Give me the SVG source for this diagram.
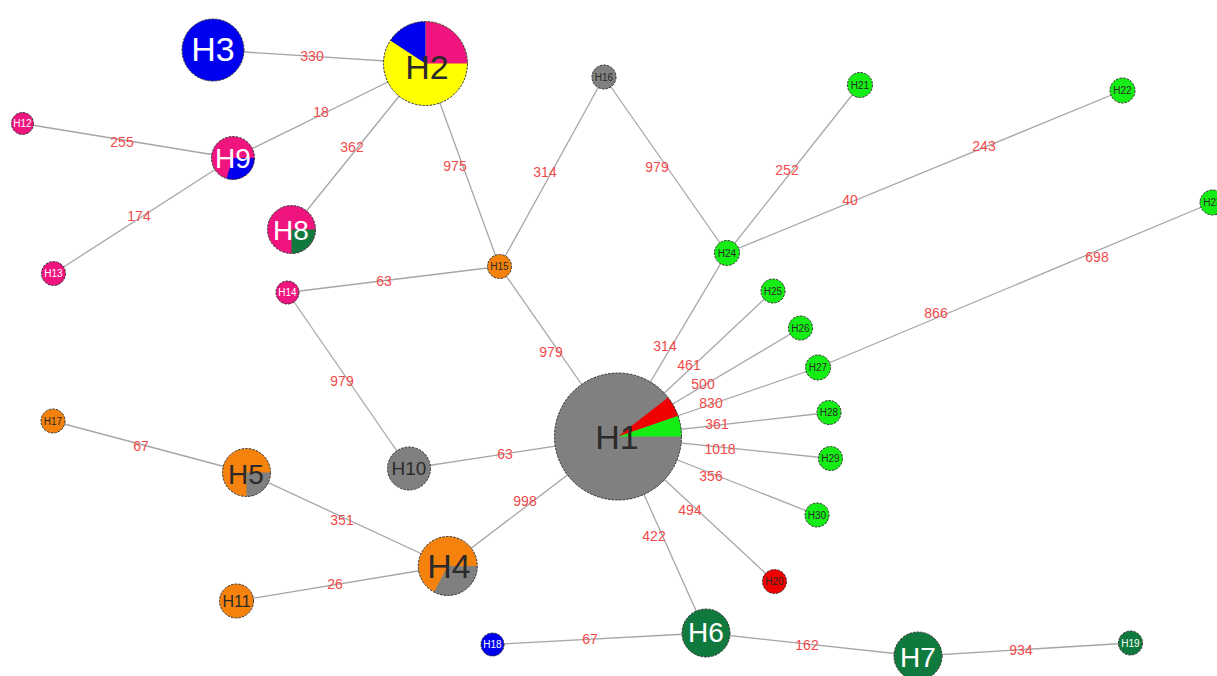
<svg xmlns="http://www.w3.org/2000/svg" width="1217" height="676" viewBox="0 0 1217 676">
<style>
.e{stroke:#a6a6a6;stroke-width:1.3;fill:none}
.el{font-family:"Liberation Sans",Arial,sans-serif;font-size:14px;fill:#f24a4a;text-anchor:middle;dominant-baseline:central}
.o{stroke:#333;stroke-width:1;stroke-dasharray:2.5 1.2;fill:none}
.t{font-family:"Liberation Sans",Arial,sans-serif;text-anchor:middle;dominant-baseline:central}
.w{fill:#fff}.d{fill:#2a2a2a}
.blue{fill:#0000f0}.pink{fill:#f0147f}.yel{fill:#ffff00}.grn{fill:#14ee14}.dg{fill:#107a3e}.org{fill:#f5820d}.gry{fill:#808080}.red{fill:#f00000}
.s10{font-size:10px}.s16{font-size:16px}.s19{font-size:19px}.s28{font-size:28px}.s34{font-size:34px}
</style>
<rect width="1217" height="676" fill="#fff"/>
<g id="connectors">
<line class="e" x1="213" y1="50" x2="425.5" y2="63.5"/>
<line class="e" x1="425.5" y1="63.5" x2="233" y2="158"/>
<line class="e" x1="425.5" y1="63.5" x2="291.5" y2="229.5"/>
<line class="e" x1="425.5" y1="63.5" x2="499.5" y2="266.5"/>
<line class="e" x1="22.5" y1="123.5" x2="233" y2="158"/>
<line class="e" x1="233" y1="158" x2="53.5" y2="273.5"/>
<line class="e" x1="287.5" y1="292.5" x2="499.5" y2="266.5"/>
<line class="e" x1="499.5" y1="266.5" x2="604" y2="77"/>
<line class="e" x1="604" y1="77" x2="727" y2="253"/>
<line class="e" x1="727" y1="253" x2="860" y2="85"/>
<line class="e" x1="727" y1="253" x2="1122.5" y2="90.5"/>
<line class="e" x1="499.5" y1="266.5" x2="618" y2="436.5"/>
<line class="e" x1="287.5" y1="292.5" x2="409" y2="468.5"/>
<line class="e" x1="409" y1="468.5" x2="618" y2="436.5"/>
<line class="e" x1="618" y1="436.5" x2="447.8" y2="566"/>
<line class="e" x1="53" y1="421" x2="246.5" y2="472.5"/>
<line class="e" x1="246.5" y1="472.5" x2="447.8" y2="566"/>
<line class="e" x1="236.5" y1="601" x2="447.8" y2="566"/>
<line class="e" x1="618" y1="436.5" x2="727" y2="253"/>
<line class="e" x1="618" y1="436.5" x2="773" y2="291"/>
<line class="e" x1="618" y1="436.5" x2="800.5" y2="328"/>
<line class="e" x1="618" y1="436.5" x2="818" y2="367.5"/>
<line class="e" x1="618" y1="436.5" x2="829" y2="412.5"/>
<line class="e" x1="618" y1="436.5" x2="830.5" y2="458.5"/>
<line class="e" x1="618" y1="436.5" x2="817" y2="515"/>
<line class="e" x1="818" y1="367.5" x2="1212.5" y2="202.5"/>
<line class="e" x1="618" y1="436.5" x2="774.5" y2="581.5"/>
<line class="e" x1="618" y1="436.5" x2="706" y2="633"/>
<line class="e" x1="492.5" y1="644.5" x2="706" y2="633"/>
<line class="e" x1="706" y1="633" x2="918" y2="656"/>
<line class="e" x1="918" y1="656" x2="1130.5" y2="643"/>
</g>
<g id="edge-labels">
<text class="el" x="312" y="56">330</text>
<text class="el" x="321" y="112">18</text>
<text class="el" x="352" y="147">362</text>
<text class="el" x="455" y="166">975</text>
<text class="el" x="122" y="142">255</text>
<text class="el" x="139" y="216">174</text>
<text class="el" x="384" y="281">63</text>
<text class="el" x="545" y="172">314</text>
<text class="el" x="657" y="167">979</text>
<text class="el" x="787" y="170">252</text>
<text class="el" x="850" y="200">40</text>
<text class="el" x="984" y="146">243</text>
<text class="el" x="551" y="352">979</text>
<text class="el" x="342" y="381">979</text>
<text class="el" x="505" y="454">63</text>
<text class="el" x="525" y="501">998</text>
<text class="el" x="141" y="446">67</text>
<text class="el" x="342" y="520">351</text>
<text class="el" x="335" y="584">26</text>
<text class="el" x="665" y="346">314</text>
<text class="el" x="689" y="365">461</text>
<text class="el" x="703" y="384">500</text>
<text class="el" x="711" y="403">830</text>
<text class="el" x="717" y="424">361</text>
<text class="el" x="720" y="449">1018</text>
<text class="el" x="711" y="476">356</text>
<text class="el" x="690" y="510">494</text>
<text class="el" x="654" y="536">422</text>
<text class="el" x="936" y="313">866</text>
<text class="el" x="1097" y="257">698</text>
<text class="el" x="590" y="639">67</text>
<text class="el" x="807" y="645">162</text>
<text class="el" x="1021" y="650">934</text>
</g>
<g id="H1"><circle class="gry" cx="618" cy="436.5" r="63.5"/><path class="grn" d="M618 436.5 L681.5 436.5 A63.5 63.5 0 0 0 678 415.8 Z"/><path class="red" d="M618 436.5 L678 415.8 A63.5 63.5 0 0 0 668 397.4 Z"/><circle class="o" cx="618" cy="436.5" r="63.5"/><text class="t d s34" x="617" y="437">H1</text></g>
<g id="H2"><circle class="yel" cx="425.5" cy="63.5" r="42"/><path class="pink" d="M425.5 63.5 L425.5 21.5 A42 42 0 0 1 467.5 63.5 Z"/><path class="blue" d="M425.5 63.5 L390.3 40.6 A42 42 0 0 1 425.5 21.5 Z"/><circle class="o" cx="425.5" cy="63.5" r="42"/><text class="t d s34" x="427" y="67">H2</text></g>
<g id="H3"><circle class="blue" cx="213" cy="50" r="31"/><circle class="o" cx="213" cy="50" r="31"/><text class="t w s34" x="213" y="49">H3</text></g>
<g id="H4"><circle class="org" cx="447.8" cy="566" r="29.5"/><path class="gry" d="M447.8 566 L477.3 566 A29.5 29.5 0 0 1 434 592 Z"/><circle class="o" cx="447.8" cy="566" r="29.5"/><text class="t d s34" x="449" y="566">H4</text></g>
<g id="H5"><circle class="org" cx="246.5" cy="472.5" r="24"/><path class="gry" d="M246.5 472.5 L270.5 472.5 A24 24 0 0 1 246.5 496.5 Z"/><circle class="o" cx="246.5" cy="472.5" r="24"/><text class="t d s28" x="246" y="474">H5</text></g>
<g id="H6"><circle class="dg" cx="706" cy="633" r="24"/><circle class="o" cx="706" cy="633" r="24"/><text class="t w s28" x="706" y="632">H6</text></g>
<g id="H7"><circle class="dg" cx="918" cy="656" r="24"/><circle class="o" cx="918" cy="656" r="24"/><text class="t w s28" x="918" y="657">H7</text></g>
<g id="H8"><circle class="pink" cx="291.5" cy="229.5" r="24"/><path class="dg" d="M291.5 229.5 L315.5 229.5 A24 24 0 0 1 291.5 253.5 Z"/><circle class="o" cx="291.5" cy="229.5" r="24"/><text class="t w s28" x="291" y="230">H8</text></g>
<g id="H9"><circle class="pink" cx="233" cy="158" r="21.5"/><path class="blue" d="M233 158 L254.5 158 A21.5 21.5 0 0 1 226.5 178.5 Z"/><circle class="o" cx="233" cy="158" r="21.5"/><text class="t w s28" x="233" y="158">H9</text></g>
<g id="H10"><circle class="gry" cx="409" cy="468.5" r="21.5"/><circle class="o" cx="409" cy="468.5" r="21.5"/><text class="t d s19" x="409" y="468.5">H10</text></g>
<g id="H11"><circle class="org" cx="236.5" cy="601" r="17"/><circle class="o" cx="236.5" cy="601" r="17"/><text class="t d s16" x="236.5" y="601.5">H11</text></g>
<g id="H12"><circle class="pink" cx="22.5" cy="123.5" r="11"/><circle class="o" cx="22.5" cy="123.5" r="11"/><text class="t w s10" x="22.5" y="123.5">H12</text></g>
<g id="H13"><circle class="pink" cx="53.5" cy="273.5" r="12"/><circle class="o" cx="53.5" cy="273.5" r="12"/><text class="t w s10" x="53.5" y="273.5">H13</text></g>
<g id="H14"><circle class="pink" cx="287.5" cy="292.5" r="11.5"/><circle class="o" cx="287.5" cy="292.5" r="11.5"/><text class="t w s10" x="287.5" y="292.5">H14</text></g>
<g id="H15"><circle class="org" cx="499.5" cy="266.5" r="12"/><circle class="o" cx="499.5" cy="266.5" r="12"/><text class="t d s10" x="499.5" y="266.5">H15</text></g>
<g id="H16"><circle class="gry" cx="604" cy="77" r="12"/><circle class="o" cx="604" cy="77" r="12"/><text class="t d s10" x="604" y="77">H16</text></g>
<g id="H17"><circle class="org" cx="53" cy="421" r="12"/><circle class="o" cx="53" cy="421" r="12"/><text class="t d s10" x="53" y="421">H17</text></g>
<g id="H18"><circle class="blue" cx="492.5" cy="644.5" r="11.5"/><circle class="o" cx="492.5" cy="644.5" r="11.5"/><text class="t w s10" x="492.5" y="644.5">H18</text></g>
<g id="H19"><circle class="dg" cx="1130.5" cy="643" r="12"/><circle class="o" cx="1130.5" cy="643" r="12"/><text class="t w s10" x="1130.5" y="643">H19</text></g>
<g id="H20"><circle class="red" cx="774.5" cy="581.5" r="12"/><circle class="o" cx="774.5" cy="581.5" r="12"/><text class="t d s10" x="774.5" y="581.5">H20</text></g>
<g id="H21"><circle class="grn" cx="860" cy="85" r="12.5"/><circle class="o" cx="860" cy="85" r="12.5"/><text class="t d s10" x="860" y="85">H21</text></g>
<g id="H22"><circle class="grn" cx="1122.5" cy="90.5" r="12.5"/><circle class="o" cx="1122.5" cy="90.5" r="12.5"/><text class="t d s10" x="1122.5" y="90.5">H22</text></g>
<g id="H23"><circle class="grn" cx="1212.5" cy="202.5" r="12.5"/><circle class="o" cx="1212.5" cy="202.5" r="12.5"/><text class="t d s10" x="1212.5" y="202.5">H23</text></g>
<g id="H24"><circle class="grn" cx="727" cy="253" r="12.5"/><circle class="o" cx="727" cy="253" r="12.5"/><text class="t d s10" x="727" y="253">H24</text></g>
<g id="H25"><circle class="grn" cx="773" cy="291" r="12"/><circle class="o" cx="773" cy="291" r="12"/><text class="t d s10" x="773" y="291">H25</text></g>
<g id="H26"><circle class="grn" cx="800.5" cy="328" r="12"/><circle class="o" cx="800.5" cy="328" r="12"/><text class="t d s10" x="800.5" y="328">H26</text></g>
<g id="H27"><circle class="grn" cx="818" cy="367.5" r="12.5"/><circle class="o" cx="818" cy="367.5" r="12.5"/><text class="t d s10" x="818" y="367.5">H27</text></g>
<g id="H28"><circle class="grn" cx="829" cy="412.5" r="12"/><circle class="o" cx="829" cy="412.5" r="12"/><text class="t d s10" x="829" y="412.5">H28</text></g>
<g id="H29"><circle class="grn" cx="830.5" cy="458.5" r="12"/><circle class="o" cx="830.5" cy="458.5" r="12"/><text class="t d s10" x="830.5" y="458.5">H29</text></g>
<g id="H30"><circle class="grn" cx="817" cy="515" r="12"/><circle class="o" cx="817" cy="515" r="12"/><text class="t d s10" x="817" y="515">H30</text></g>
</svg>
